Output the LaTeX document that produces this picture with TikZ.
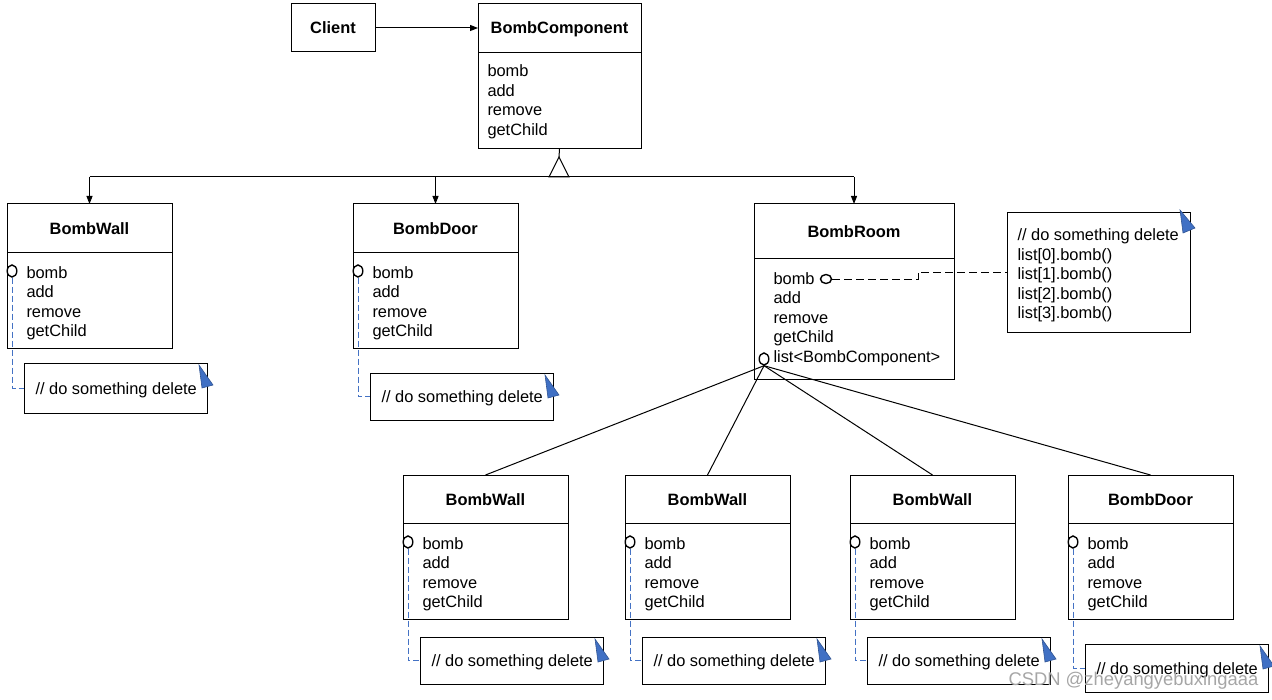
\documentclass[tikz,border=0pt]{standalone}
\usepackage{fontspec}
\setmainfont{Liberation Sans}
\usetikzlibrary{arrows.meta,shapes.geometric}
\definecolor{notelink}{RGB}{68,114,196}
\definecolor{notetip}{RGB}{64,112,196}
\begin{document}
\begin{tikzpicture}[x=0.5pt,y=-0.5pt,line width=0.5pt,
	every node/.style={font=\fontsize{8.2}{9.75}\selectfont},
	box/.style={draw,anchor=north west,inner sep=0pt,outer sep=0pt},
	title/.style={font=\fontsize{8.2}{9.75}\selectfont\bfseries},
	item/.style={anchor=base west,inner sep=0pt},
	hole/.style={draw,fill=white,ellipse,inner sep=0pt,line width=0.7pt,minimum width=4.8pt,minimum height=6pt},
	link/.style={draw=notelink,dash pattern=on 3pt off 1.5pt},
	roomlink/.style={dash pattern=on 4pt off 2pt},
	arr/.style={-{Triangle[length=4pt,width=3pt]}}]
		\useasboundingbox (0,0) rectangle (1272,700);
			\node[draw,title,minimum width=42pt,minimum height=24pt,inner sep=0pt] (client) at (333,28) {Client};
			\node[box,minimum width=81.5pt,minimum height=72.5pt] (comp) at (478,4) {};
			\draw ([yshift=-24.5pt]comp.north west) -- ([yshift=-24.5pt]comp.north east);
			\node[title] at ([yshift=-12.5pt]comp.north) {BombComponent};
			\foreach \m [count=\k] in {bomb,add,remove,getChild}
				\node[item] at ([xshift=4.5pt,yshift={-26.75pt-9.75pt*\k}]comp.north west) {\m};
			\foreach \n/\x/\y/\t/\g/\h in {wallA/7/204/BombWall/7.5pt/25pt, doorA/353/204/BombDoor/12.5pt/23.5pt, wallB/403/475/BombWall/9pt/23.5pt, wallC/625/475/BombWall/9pt/23.5pt, wallD/850/475/BombWall/9pt/23.5pt, doorB/1068/475/BombDoor/12.5pt/24pt}{
				\node[box,minimum width=82.5pt,minimum height=72pt] (\n) at (\x,\y) {};
				\draw ([yshift=-24pt]\n.north west) -- ([yshift=-24pt]\n.north east);
				\node[title] at ([yshift=-12.5pt]\n.north) {\t};
				\foreach \m [count=\k] in {bomb,add,remove,getChild}
					\node[item] at ([xshift=9.5pt,yshift={-27.25pt-9.75pt*\k}]\n.north west) {\m};
				\node[box,minimum width=91.5pt,minimum height=\h] (\n-n) at ([xshift=8.5pt,yshift=-\g]\n.south west) {};
				\node[item,anchor=west] at ([xshift=5.5pt,yshift=-1pt]\n-n.west) {// do something delete};
				\fill[notetip,draw=notetip!75!black,line width=0.3pt] (\n-n.north east) ++(-8,2) -- ++(14,20) -- ++(-11,3) -- cycle;
				\node[hole] (\n-h) at ([xshift=2.5pt,yshift=-33.5pt]\n.north west) {};
				\draw[link] (\n-h.south) |- (\n-n.west);
			}
			\node[box,minimum width=100pt,minimum height=87.5pt] (room) at (754,204) {};
			\draw ([yshift=-27pt]room.north west) -- ([yshift=-27pt]room.north east);
			\node[title] at ([yshift=-13.75pt]room.north) {BombRoom};
			\foreach \m [count=\k] in {bomb,add,remove,getChild,list<BombComponent>}
				\node[item] at ([xshift=9.5pt,yshift={-30.25pt-9.75pt*\k}]room.north west) {\m};
			\node[hole,minimum width=5.5pt,minimum height=4.5pt] (roomhole) at ([xshift=36pt,yshift=-37.5pt]room.north west) {};
			\node[hole] (listhole) at ([xshift=5pt,yshift=-77.5pt]room.north west) {};
			\node[box,minimum width=91.5pt,minimum height=60pt] (roomnote) at (1007,212) {};
			\foreach \m [count=\k] in {// do something delete,list[0].bomb(),list[1].bomb(),list[2].bomb(),list[3].bomb()}
				\node[item] at ([xshift=5pt,yshift={-4.5pt-9.75pt*\k}]roomnote.north west) {\m};
			\fill[notetip,draw=notetip!75!black,line width=0.3pt] (roomnote.north east) ++(-10,-2) -- ++(15,18) -- ++(-12,5) -- cycle;
			\coordinate (bend) at (918,279);
			\draw[roomlink] (roomhole.east) -- (bend) |- (roomnote.west);
			% client and inheritance
			\draw[arr] (client.east) -- (client.east -| comp.west);
			\coordinate (apex) at (559,157);
			\coordinate (bar) at (559,177);
			\draw (comp.south) -- (apex);
			\draw (apex) -- ++(-10,20) -- ++(20,0) -- cycle;
			\draw (wallA.north |- bar) -- (room.north |- bar);
			\foreach \n in {wallA,doorA,room}
				\draw[arr] (\n.north |- bar) -- (\n.north);
			\foreach \n in {wallB,wallC,wallD,doorB}
				\draw (listhole.south) -- (\n.north);
			\node[anchor=west,inner sep=0pt,text=gray!70,font=\fontsize{9.2}{11}\selectfont] (mark) at (1008,681) {CSDN @zheyangyebuxingaaa};
	\end{tikzpicture}
\end{document}
